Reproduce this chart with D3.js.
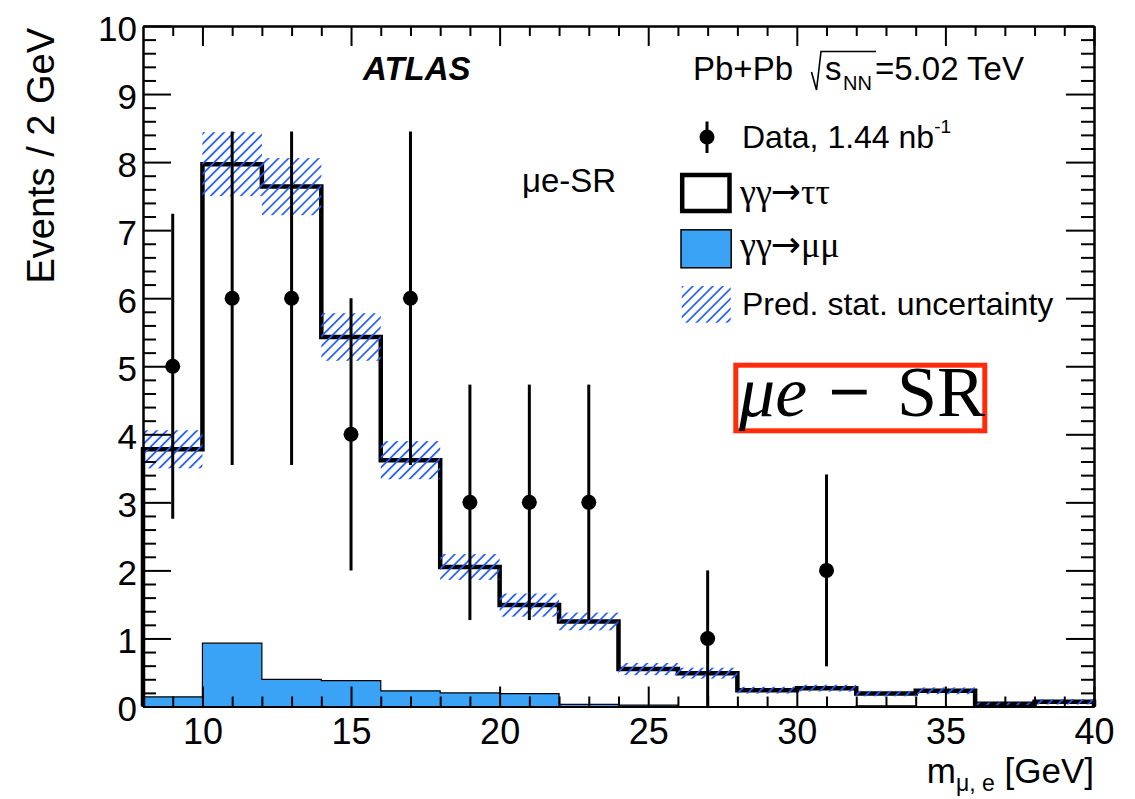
<!DOCTYPE html>
<html>
<head>
<meta charset="utf-8">
<script src="https://cdn.jsdelivr.net/npm/d3@7"></script>
<style>
  body { margin: 0; background: #fff; }
  svg { display: block; }
  .sans { font-family: "Liberation Sans", Arial, Helvetica, sans-serif; }
  .serif { font-family: "Liberation Serif", "Times New Roman", serif; }
  .arrow { font-family: "DejaVu Sans", sans-serif; }
</style>
</head>
<body>
<svg id="chart" width="1135" height="799"></svg>
<script>
// Binning of the mu-e invariant mass (GeV), 2 GeV wide bins
const binEdges = [8, 10, 12, 14, 16, 18, 20, 22, 24, 26, 28, 30, 32, 34, 36, 38, 40];
// Total prediction (gamma gamma -> tau tau stacked on gamma gamma -> mu mu)
const predTotal = [3.78, 7.97, 7.64, 5.43, 3.62, 2.05, 1.49, 1.25, 0.55, 0.49, 0.24, 0.27, 0.19, 0.23, 0.04, 0.07];
// gamma gamma -> mu mu component
const predMuMu = [0.14, 0.93, 0.40, 0.38, 0.23, 0.20, 0.19, 0.03, 0.02, 0, 0, 0, 0.01, 0, 0, 0];
// Statistical uncertainty of the prediction (half width of the band)
const predStatErr = [0.28, 0.47, 0.42, 0.35, 0.28, 0.19, 0.17, 0.13, 0.09, 0.08, 0.05, 0.05, 0.04, 0.05, 0.02, 0.04];
// Observed events and their uncertainties
const dataCounts = [5, 6, 6, 4, 6, 3, 3, 3, 0, 1, 0, 2, 0, 0, 0, 0];
const dataErr = [2.24, 2.45, 2.45, 2.00, 2.45, 1.73, 1.73, 1.73, 0, 1.00, 0, 1.41, 0, 0, 0, 0];
// Axis ticks
const xMajorTicks = [10, 15, 20, 25, 30, 35, 40];
const xMinorTicks = [9, 11, 12, 13, 14, 16, 17, 18, 19, 21, 22, 23, 24, 26, 27, 28, 29, 31, 32, 33, 34, 36, 37, 38, 39];
const yMajorTicks = [0, 1, 2, 3, 4, 5, 6, 7, 8, 9, 10];
const yMinorTicks = d3.range(0.2, 10, 0.2).filter(v => Math.abs(v - Math.round(v)) > 1e-6);

const colMuMu = "#3ba3f5";
const colHatch = "#1f5bff";

const svg = d3.select("#chart");
const x = d3.scaleLinear().domain([8, 40]).range([143, 1094]);
const y = d3.scaleLinear().domain([0, 10]).range([706.5, 26]);

// hatch pattern for the uncertainty band
const defs = svg.append("defs");
const pat = defs.append("pattern")
  .attr("id", "hatch")
  .attr("patternUnits", "userSpaceOnUse")
  .attr("width", 7.1).attr("height", 7.1)
  .attr("patternTransform", "rotate(45)");
pat.append("line")
  .attr("x1", 3.55).attr("y1", -1).attr("x2", 3.55).attr("y2", 8.1)
  .attr("stroke", colHatch).attr("stroke-width", 1.7);

const bins = predTotal.map((t, i) => ({
  lo: binEdges[i], hi: binEdges[i + 1], tot: t, mm: predMuMu[i],
  err: predStatErr[i], n: dataCounts[i], en: dataErr[i]
}));

function stepPoints(vals) {
  const pts = [[binEdges[0], 0]];
  vals.forEach((v, i) => { pts.push([binEdges[i], v]); pts.push([binEdges[i + 1], v]); });
  pts.push([binEdges[binEdges.length - 1], 0]);
  return pts;
}
const stepLine = d3.line().x(d => x(d[0])).y(d => y(d[1]));

const plot = svg.append("g");

// gamma gamma -> mu mu filled histogram
plot.append("path")
  .attr("d", stepLine(stepPoints(predMuMu)) + "Z")
  .attr("fill", colMuMu).attr("stroke", "#000").attr("stroke-width", 1.2);

// total prediction outline
plot.append("path")
  .attr("d", stepLine(stepPoints(predTotal)))
  .attr("fill", "none").attr("stroke", "#000").attr("stroke-width", 4.5)
  .attr("stroke-linejoin", "miter");

// statistical uncertainty band
plot.selectAll("rect.band").data(bins).join("rect")
  .attr("class", "band")
  .attr("x", d => x(d.lo)).attr("width", d => x(d.hi) - x(d.lo))
  .attr("y", d => y(d.tot + d.err))
  .attr("height", d => y(Math.max(0, d.tot - d.err)) - y(d.tot + d.err))
  .attr("fill", "url(#hatch)");

// data points
const pts = bins.filter(d => d.n > 0);
plot.selectAll("line.err").data(pts).join("line")
  .attr("class", "err")
  .attr("x1", d => x((d.lo + d.hi) / 2)).attr("x2", d => x((d.lo + d.hi) / 2))
  .attr("y1", d => y(d.n - d.en)).attr("y2", d => y(d.n + d.en))
  .attr("stroke", "#000").attr("stroke-width", 3);
plot.selectAll("circle.pt").data(pts).join("circle")
  .attr("class", "pt")
  .attr("cx", d => x((d.lo + d.hi) / 2)).attr("cy", d => y(d.n))
  .attr("r", 7.5).attr("fill", "#000");

// axes with inward ticks on all four sides
function styleAxis(g) {
  g.selectAll(".domain").attr("stroke", "#000").attr("stroke-width", 2);
  g.selectAll(".tick line").attr("stroke", "#000").attr("stroke-width", 2);
  g.attr("font-family", null).attr("font-size", null);
}
const axB = svg.append("g").attr("class", "sans")
  .attr("transform", `translate(0,${y(0)})`)
  .call(d3.axisBottom(x).tickValues(xMajorTicks).tickSize(-20).tickSizeOuter(0).tickPadding(12).tickFormat(d3.format("d")))
  .call(styleAxis);
axB.selectAll(".tick text").attr("font-size", 36).attr("fill", "#000");
svg.append("g").attr("transform", `translate(0,${y(0)})`)
  .call(d3.axisBottom(x).tickValues(xMinorTicks).tickSize(-10).tickSizeOuter(0).tickFormat(""))
  .call(styleAxis);
svg.append("g").attr("transform", `translate(0,${y(10)})`)
  .call(d3.axisTop(x).tickValues(xMajorTicks).tickSize(-20).tickSizeOuter(0).tickFormat(""))
  .call(styleAxis);
svg.append("g").attr("transform", `translate(0,${y(10)})`)
  .call(d3.axisTop(x).tickValues(xMinorTicks).tickSize(-10).tickSizeOuter(0).tickFormat(""))
  .call(styleAxis);

const axL = svg.append("g").attr("class", "sans")
  .attr("transform", `translate(${x(8)},0)`)
  .call(d3.axisLeft(y).tickValues(yMajorTicks).tickSize(-28).tickSizeOuter(0).tickPadding(6).tickFormat(d3.format("d")))
  .call(styleAxis);
axL.selectAll(".tick text").attr("font-size", 35).attr("fill", "#000").attr("dy", "0.41em");
svg.append("g").attr("transform", `translate(${x(8)},0)`)
  .call(d3.axisLeft(y).tickValues(yMinorTicks).tickSize(-13).tickSizeOuter(0).tickFormat(""))
  .call(styleAxis);
svg.append("g").attr("transform", `translate(${x(40)},0)`)
  .call(d3.axisRight(y).tickValues(yMajorTicks).tickSize(-28).tickSizeOuter(0).tickFormat(""))
  .call(styleAxis);
svg.append("g").attr("transform", `translate(${x(40)},0)`)
  .call(d3.axisRight(y).tickValues(yMinorTicks).tickSize(-13).tickSizeOuter(0).tickFormat(""))
  .call(styleAxis);

// axis titles
svg.append("text").attr("class", "sans")
  .attr("transform", `translate(54,${y(10) + 2}) rotate(-90)`)
  .attr("text-anchor", "end").attr("font-size", 38)
  .text("Events / 2 GeV");

const xt = svg.append("text").attr("class", "sans")
  .attr("x", x(40)).attr("y", 783).attr("text-anchor", "end").attr("font-size", 35);
xt.append("tspan").text("m");
xt.append("tspan").attr("dy", 8).attr("font-size", 23).text("\u03bc, e");
xt.append("tspan").attr("dy", -8).text(" [GeV]");

// labels inside the frame
svg.append("text").attr("class", "sans")
  .attr("x", 363).attr("y", 80).attr("font-size", 33)
  .attr("font-weight", "bold").attr("font-style", "italic")
  .text("ATLAS");

svg.append("text").attr("class", "sans").attr("x", 693).attr("y", 80).attr("font-size", 33).text("Pb+Pb");
svg.append("path")
  .attr("d", "M811.5,72 L816.5,90 L821,51.5 L876,51.5")
  .attr("fill", "none").attr("stroke", "#000").attr("stroke-width", 1.6);
svg.append("text").attr("class", "sans").attr("x", 825).attr("y", 80).attr("font-size", 33).text("s");
svg.append("text").attr("class", "sans").attr("x", 843).attr("y", 90).attr("font-size", 20).text("NN");
svg.append("text").attr("class", "sans").attr("x", 875).attr("y", 80).attr("font-size", 33).text("=5.02 TeV");

svg.append("text").attr("class", "sans")
  .attr("x", 522).attr("y", 192).attr("font-size", 33)
  .text("\u03bce-SR");

// legend
const leg = svg.append("g");
leg.append("line").attr("x1", 707).attr("x2", 707).attr("y1", 121.5).attr("y2", 153)
  .attr("stroke", "#000").attr("stroke-width", 3);
leg.append("circle").attr("cx", 707).attr("cy", 137).attr("r", 7.5).attr("fill", "#000");
const dt = leg.append("text").attr("class", "sans").attr("x", 742).attr("y", 148).attr("font-size", 32);
dt.append("tspan").text("Data, 1.44 nb");
dt.append("tspan").attr("dy", -15).attr("font-size", 19).text("-1");

function procLabel(yPos, finalState) {
  const t = leg.append("text").attr("class", "serif").attr("x", 740).attr("y", yPos).attr("font-size", 36);
  t.append("tspan").text("\u03b3\u03b3");
  t.append("tspan").attr("class", "arrow").attr("font-size", 36).attr("dx", -1).text("\u2192");
  t.append("tspan").text(finalState);
}

leg.append("rect").attr("x", 682.2).attr("y", 175).attr("width", 47.3).attr("height", 36)
  .attr("fill", "#fff").attr("stroke", "#000").attr("stroke-width", 4.5);
procLabel(204, "\u03c4\u03c4");

leg.append("rect").attr("x", 681).attr("y", 229.8).attr("width", 50.2).attr("height", 38)
  .attr("fill", colMuMu).attr("stroke", "#000").attr("stroke-width", 1.5);
procLabel(257, "\u03bc\u03bc");

leg.append("rect").attr("x", 681.7).attr("y", 286).attr("width", 49).attr("height", 36.7)
  .attr("fill", "url(#hatch)");
leg.append("text").attr("class", "sans").attr("x", 742).attr("y", 315).attr("font-size", 32)
  .text("Pred. stat. uncertainty");

// boxed region label
svg.append("rect").attr("x", 735.8).attr("y", 365.2).attr("width", 249).attr("height", 65.6)
  .attr("fill", "#fff").attr("stroke", "#ff2b0a").attr("stroke-width", 5);
svg.append("text").attr("class", "serif").attr("x", 739).attr("y", 416).attr("font-size", 72)
  .attr("font-style", "italic").text("\u03bce");
svg.append("text").attr("class", "serif").attr("x", 829).attr("y", 416).attr("font-size", 72)
  .attr("stroke", "#000").attr("stroke-width", 1.2)
  .text("\u2212");
svg.append("text").attr("class", "serif").attr("x", 897).attr("y", 416).attr("font-size", 72)
  .text("SR");
</script>
</body>
</html>
